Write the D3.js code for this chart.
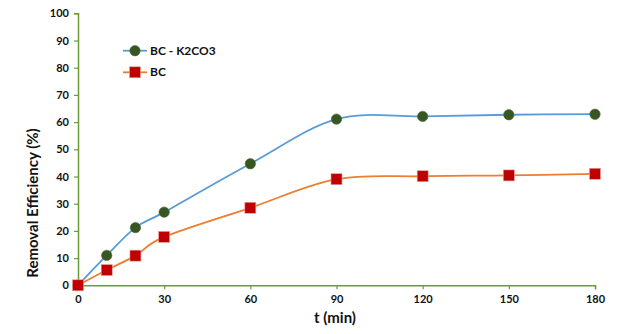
<!DOCTYPE html>
<html><head><meta charset="utf-8">
<script src="https://cdn.jsdelivr.net/npm/d3@7"></script>
<style>body{margin:0;background:#fff;} svg{display:block;}</style>
</head><body>
<svg id="c" width="637" height="334"></svg>
<script>
const times = [0, 10, 20, 30, 60, 90, 120, 150, 180];
const bcK2co3 = [0, 11.0, 21.2, 26.9, 44.7, 61.1, 62.1, 62.7, 62.9];
const bc = [0, 5.6, 10.9, 17.8, 28.5, 39.0, 40.1, 40.4, 41.0];
const xTicks = [0, 30, 60, 90, 120, 150, 180];
const yTicks = [0, 10, 20, 30, 40, 50, 60, 70, 80, 90, 100];
const seriesNames = ["BC - K2CO3", "BC"];

const svg = d3.select("#c");
const font = "Lato, 'Open Sans', sans-serif";
const axisColor = "#6B9B37";
const x = d3.scaleLinear().domain([0, 180]).range([78, 595]);
const y = d3.scaleLinear().domain([0, 100]).range([285.3, 13.3]);

// axes
const gy = svg.append("g").attr("transform", `translate(${x(0)},0)`)
  .call(d3.axisLeft(y).tickValues(yTicks).tickSize(4).tickPadding(5));
const gx = svg.append("g").attr("transform", `translate(0,${y(0)})`)
  .call(d3.axisBottom(x).tickValues(xTicks).tickSize(4).tickPadding(6));
[gy, gx].forEach(g => {
  g.select(".domain").attr("stroke", axisColor).attr("stroke-width", 1.5);
  g.selectAll(".tick line").attr("stroke", axisColor).attr("stroke-width", 1.2);
  g.selectAll("text").attr("fill", "#111").attr("font-family", font)
    .attr("font-weight", "bold").attr("font-size", 11);
});

const series = [
  {name: seriesNames[0], vals: bcK2co3, color: "#5B9BD5", marker: "circle"},
  {name: seriesNames[1], vals: bc, color: "#ED7D31", marker: "square"}
];
const line = d3.line().x(d => x(d[0])).y(d => y(d[1])).curve(d3.curveCardinal.tension(0));

function drawMarker(g, type, cx, cy) {
  if (type === "circle") {
    g.append("circle").attr("cx", cx).attr("cy", cy).attr("r", 5.2)
      .attr("fill", "#375623").attr("stroke", "#4a6a30").attr("stroke-width", 0.6);
  } else {
    g.append("rect").attr("x", cx - 5.5).attr("y", cy - 5.5).attr("width", 11).attr("height", 11)
      .attr("fill", "#C00000").attr("stroke", "#e8a0a0").attr("stroke-width", 0.6);
  }
}

// draw orange first, then blue
[series[1], series[0]].forEach(s => {
  const pts = times.map((t, i) => [t, s.vals[i]]);
  svg.append("path").attr("d", line(pts)).attr("fill", "none")
    .attr("stroke", s.color).attr("stroke-width", 1.8);
});
[series[0], series[1]].forEach(s => {
  const g = svg.append("g");
  times.forEach((t, i) => drawMarker(g, s.marker, x(t), y(s.vals[i])));
});

// legend
series.forEach((s, i) => {
  const ly = 50.7 + i * 21.6;
  const g = svg.append("g");
  g.append("line").attr("x1", 123).attr("x2", 147).attr("y1", ly).attr("y2", ly)
    .attr("stroke", s.color).attr("stroke-width", 1.8);
  drawMarker(g, s.marker, 135, ly);
  g.append("text").attr("x", 150).attr("y", ly + 4).attr("font-family", font)
    .attr("font-weight", "bold").attr("font-size", 12).attr("fill", "#111").text(s.name);
});

// axis titles
svg.append("text").attr("x", 335).attr("y", 323).attr("text-anchor", "middle")
  .attr("font-family", font).attr("font-weight", "bold").attr("font-size", 15)
  .attr("fill", "#111").text("t (min)");
svg.append("text").attr("transform", "translate(38,203) rotate(-90)").attr("text-anchor", "middle")
  .attr("font-family", font).attr("font-weight", "bold").attr("font-size", 15)
  .attr("fill", "#111").text("Removal Efficiency (%)");
</script>
</body></html>
